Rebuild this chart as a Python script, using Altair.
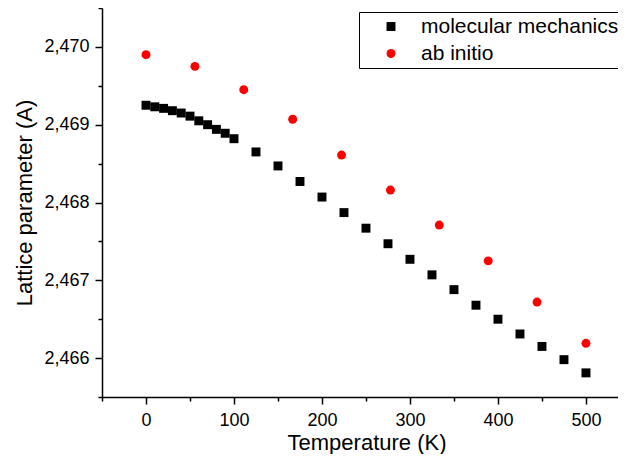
import altair as alt
import pandas as pd

# ---- data ----
series = ["molecular mechanics", "ab initio"]

T_mm = [0, 10, 20, 30, 40, 50, 60, 70, 80, 90, 100, 125, 150, 175, 200, 225,
        250, 275, 300, 325, 350, 375, 400, 425, 450, 475, 500]
a_mm = [2.46925, 2.46923, 2.46921, 2.46918, 2.46915, 2.46911, 2.46905, 2.46900,
        2.46894, 2.46889, 2.46882, 2.46865, 2.46847, 2.46827, 2.46807, 2.46787,
        2.46767, 2.46747, 2.46727, 2.46707, 2.46688, 2.46668, 2.46650, 2.46631,
        2.46615, 2.46598, 2.46581]

T_ai = [0, 55.6, 111.1, 166.7, 222.2, 277.8, 333.3, 388.9, 444.4, 500]
a_ai = [2.46990, 2.46975, 2.46945, 2.46907, 2.46861, 2.46816, 2.46771, 2.46725,
        2.46672, 2.46619]

x_major = [0, 100, 200, 300, 400, 500]
x_minor = [-50, 50, 150, 250, 350, 450]
y_major = [2.466, 2.467, 2.468, 2.469, 2.470]
y_minor = [2.4655, 2.4665, 2.4675, 2.4685, 2.4695, 2.4705]

df = pd.DataFrame({
    "T": T_mm + T_ai,
    "a": a_mm + a_ai,
    "series": [series[0]] * len(T_mm) + [series[1]] * len(T_ai),
})

FONT = "Liberation Sans"
x_scale = alt.Scale(domain=[-50, 536.4], nice=False, zero=False)
y_scale = alt.Scale(domain=[2.4655, 2.4705], nice=False, zero=False)

common_axis = dict(grid=False, tickColor="black", tickWidth=1.5,
                   domainColor="black", domainWidth=1.5)

x_axis = alt.Axis(
    orient="bottom", values=x_major, format="d", tickSize=7,
    labelFont=FONT, labelFontSize=18, labelColor="black",
    labelBaseline="alphabetic", labelPadding=21.5,
    labelFlush=False, labelOverlap=False,
    title="Temperature (K)", titleFont=FONT, titleFontSize=22,
    titleFontWeight="normal", titleColor="black",
    titleX=264.5, titleY=52, titleAlign="center", titleBaseline="alphabetic",
    **common_axis,
)
y_axis = alt.Axis(
    orient="left", values=y_major, tickSize=7,
    labelExpr="replace(format(datum.value, '.3f'), '.', ',')",
    labelFont=FONT, labelFontSize=18, labelColor="black", labelPadding=6,
    labelFlush=False, labelOverlap=False,
    title="Lattice parameter (A)", titleFont=FONT, titleFontSize=22,
    titleFontWeight="normal", titleColor="black", titleAngle=270,
    titleX=-70.3, titleY=194.5, titleAlign="center", titleBaseline="alphabetic",
    **common_axis,
)
x_minor_axis = alt.Axis(orient="bottom", values=x_minor, tickSize=4, labels=False,
                        domain=False, title="", grid=False, tickColor="black",
                        tickWidth=1.5)
y_minor_axis = alt.Axis(orient="left", values=y_minor, tickSize=4, labels=False,
                        domain=False, title="", grid=False, tickColor="black",
                        tickWidth=1.5)

legend = alt.Legend(
    title=None, orient="none", legendX=257, legendY=4,
    strokeColor="black", fillColor="white", padding=4,
    labelFont=FONT, labelFontSize=21, labelColor="black", labelLimit=500,
    symbolSize=80, symbolStrokeWidth=0, symbolOffset=17.5, labelOffset=19.5,
    rowPadding=5,
)

base = alt.Chart(df)

points = base.mark_point(filled=True, size=80, opacity=1).encode(
    x=alt.X("T:Q", scale=x_scale, axis=x_axis),
    y=alt.Y("a:Q", scale=y_scale, axis=y_axis),
    color=alt.Color("series:N", scale=alt.Scale(domain=series, range=["black", "red"]),
                    legend=legend),
    shape=alt.Shape("series:N", scale=alt.Scale(domain=series, range=["square", "circle"]),
                    legend=legend),
)

minor = base.mark_point(opacity=0).encode(
    x=alt.X("T:Q", scale=x_scale, axis=x_minor_axis),
    y=alt.Y("a:Q", scale=y_scale, axis=y_minor_axis),
)

chart = alt.layer(points, minor).resolve_axis(
    x="independent", y="independent"
).properties(
    width=516, height=389,
    autosize=alt.AutoSizeParams(type="none"),
    padding={"left": 94, "top": 0, "right": 0, "bottom": 57},
).configure_view(stroke="transparent")

chart.save("out.html", embed_options={"renderer": "svg", "actions": False})
